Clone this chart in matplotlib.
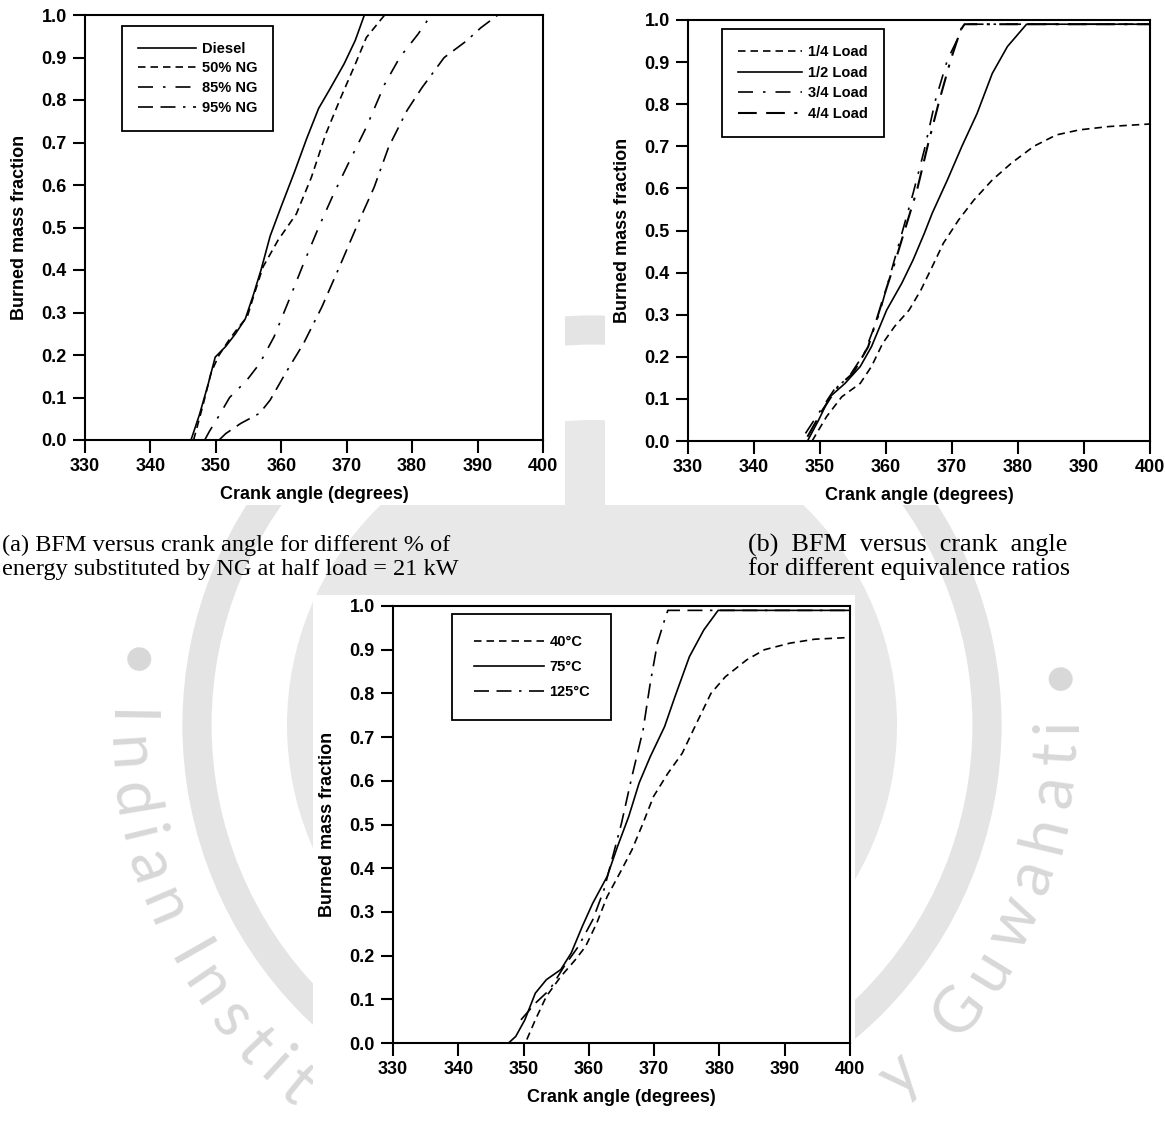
import numpy as np
import matplotlib
matplotlib.use("Agg")
import matplotlib.pyplot as plt
from matplotlib.patches import Circle, Rectangle
from matplotlib.transforms import IdentityTransform
from matplotlib.font_manager import FontProperties
from matplotlib.textpath import TextToPath

# ---- panel (a): % of energy substituted by NG, half load ----
a_labels = ["Diesel", "50% NG", "85% NG", "95% NG"]
a_diesel_x = [346.2, 347.5, 348.8, 349.9, 351.5, 353.0, 354.5, 355.7, 356.9, 358.3,
              360.0, 362.0, 363.9, 365.7, 367.4, 369.6, 371.3, 372.7]
a_diesel_y = [0.0, 0.06, 0.13, 0.195, 0.22, 0.25, 0.285, 0.34, 0.40, 0.48,
              0.55, 0.63, 0.71, 0.78, 0.825, 0.885, 0.94, 1.0]
a_ng50_x = [346.6, 348.0, 349.3, 350.5, 352.0, 353.3, 354.8, 355.8, 357.2, 359.5,
            362.3, 364.6, 366.8, 369.1, 371.3, 373.0, 375.8]
a_ng50_y = [0.0, 0.08, 0.16, 0.20, 0.235, 0.262, 0.29, 0.34, 0.407, 0.47,
            0.532, 0.618, 0.72, 0.806, 0.884, 0.947, 1.0]
a_ng85_x = [348.3, 349.0, 350.4, 352.1, 354.7, 356.7, 358.9, 361.2, 363.4, 365.7,
            368.0, 370.2, 373.0, 375.8, 378.1, 380.9, 382.9]
a_ng85_y = [0.0, 0.02, 0.055, 0.10, 0.14, 0.18, 0.243, 0.33, 0.415, 0.50,
            0.579, 0.649, 0.736, 0.837, 0.90, 0.955, 1.0]
a_ng95_x = [350.5, 351.5, 353.8, 356.7, 358.3, 360.6, 363.4, 366.2, 369.1, 371.9,
            374.2, 376.4, 379.2, 381.5, 384.9, 388.3, 390.5, 393.1]
a_ng95_y = [0.0, 0.015, 0.039, 0.063, 0.094, 0.156, 0.227, 0.313, 0.415, 0.516,
            0.595, 0.689, 0.775, 0.829, 0.90, 0.939, 0.97, 1.0]

# ---- panel (b): different loads ----
b_labels = ["1/4 Load", "1/2 Load", "3/4 Load", "4/4 Load"]
b_q1_x = [348.8, 351.0, 353.3, 356.1, 357.8, 359.5, 361.3, 363.5, 365.3, 367.0, 368.7,
          371.0, 373.3, 376.1, 379.0, 382.4, 385.8, 389.3, 393.8, 400.0]
b_q1_y = [0.0, 0.058, 0.105, 0.137, 0.177, 0.232, 0.272, 0.311, 0.359, 0.414, 0.47,
          0.525, 0.572, 0.62, 0.66, 0.70, 0.727, 0.739, 0.747, 0.753]
b_q2_x = [348.1, 349.8, 351.5, 353.8, 356.1, 357.8, 360.1, 362.4, 364.1, 365.8, 367.0,
          369.3, 371.5, 373.8, 376.1, 378.4, 381.3, 400.0]
b_q2_y = [0.0, 0.05, 0.105, 0.137, 0.177, 0.224, 0.311, 0.375, 0.43, 0.493, 0.541,
          0.62, 0.70, 0.778, 0.873, 0.937, 0.99, 0.99]
b_q3_x = [347.8, 349.8, 352.1, 354.4, 356.7, 359.0, 360.7, 362.4, 364.1, 365.8, 367.5,
          369.3, 371.0, 371.6, 400.0]
b_q3_y = [0.018, 0.066, 0.121, 0.153, 0.208, 0.303, 0.398, 0.493, 0.588, 0.691, 0.81,
          0.905, 0.96, 0.99, 0.99]
b_q4_x = [348.1, 350.4, 352.7, 355.0, 357.3, 359.5, 361.3, 363.0, 364.7, 366.4, 368.1,
          369.8, 371.3, 371.9, 400.0]
b_q4_y = [0.01, 0.074, 0.129, 0.161, 0.224, 0.335, 0.422, 0.509, 0.596, 0.707, 0.81,
          0.905, 0.976, 0.99, 0.99]

# ---- panel (c): intake temperature ----
c_labels = ["40\u00b0C", "75\u00b0C", "125\u00b0C"]
c_t40_x = [350.5, 351.8, 353.5, 355.7, 357.9, 359.5, 361.2, 362.8, 365.0, 366.6, 368.3,
           369.9, 372.1, 374.3, 376.5, 378.7, 380.9, 384.2, 386.9, 390.8, 394.6, 400.0]
c_t40_y = [0.008, 0.053, 0.107, 0.152, 0.19, 0.221, 0.274, 0.335, 0.396, 0.442, 0.503,
           0.564, 0.617, 0.663, 0.732, 0.80, 0.838, 0.877, 0.90, 0.915, 0.924, 0.928]
c_t75_x = [347.7, 348.8, 350.2, 351.8, 353.5, 355.7, 357.3, 359.0, 360.6, 362.8, 364.4,
           366.1, 367.7, 369.4, 371.6, 373.2, 375.4, 377.6, 379.8, 400.0]
c_t75_y = [0.0, 0.015, 0.053, 0.114, 0.145, 0.168, 0.206, 0.267, 0.32, 0.381, 0.45,
           0.518, 0.595, 0.655, 0.724, 0.793, 0.884, 0.945, 0.99, 0.99]
c_t125_x = [349.6, 351.8, 354.0, 356.2, 358.4, 360.6, 362.3, 363.4, 365.0, 366.6, 368.3,
            369.4, 370.5, 371.6, 372.1, 400.0]
c_t125_y = [0.053, 0.091, 0.122, 0.175, 0.221, 0.282, 0.35, 0.412, 0.503, 0.61, 0.716,
            0.823, 0.915, 0.968, 0.99, 0.99]

x_ticks = [330, 340, 350, 360, 370, 380, 390, 400]
y_ticks = [0.0, 0.1, 0.2, 0.3, 0.4, 0.5, 0.6, 0.7, 0.8, 0.9, 1.0]

caption_a = ["(a) BFM versus crank angle for different % of",
             "energy substituted by NG at half load = 21 kW"]
caption_b = ["(b)  BFM  versus  crank  angle",
             "for different equivalence ratios"]

wm_left = "\u2022 Indian Institute of Technology"
wm_right = "Guwahati \u2022"

# line styles
SOLID = "-"
SHORT = (0, (4.5, 3))
DASHDOT = (0, (9, 6, 1.5, 6))
DASHDASHDOT = (0, (9, 4.5, 9, 4.5, 1.5, 4.5))

plt.rcParams["font.family"] = ["Liberation Sans", "DejaVu Sans"]
plt.rcParams["font.weight"] = "bold"

W, H = 1165, 1135
fig = plt.figure(figsize=(W / 100, H / 100), dpi=100)

# white boxes of the three pasted plots (pixels from top-left)
boxes = [(0, 0, 565, 505), (605, 0, 1165, 505), (313, 595, 855, 1135)]

# ---- faint watermark in the background ----
wm = "#e4e4e4"
cx, cy = 592, H - 725
fig.patches.append(Circle((cx, cy), 305, transform=IdentityTransform(),
                          facecolor="#e8e8e8", edgecolor="none", zorder=-5))
fig.patches.append(Circle((cx, cy), 395, transform=IdentityTransform(),
                          facecolor="none", edgecolor=wm, lw=21, zorder=-5))

fp = FontProperties(family=["Lato", "Open Sans", "DejaVu Sans"], weight="normal", size=46)
t2p = TextToPath()
em = 46 * 100 / 72


def char_adv(ch):
    if ch == " ":
        return 0.26 * em
    w = t2p.get_text_width_height_descent(ch, fp, ismath=False)[0] * 100 / 72
    return w + 0.15 * em


r_base, r_mid = 484, 462


def in_box(px, py):
    ypx = H - py
    for x0, y0, x1, y1 in boxes:
        if x0 <= px <= x1 and y0 <= ypx <= y1:
            return True
    return False


def put_arc(text, ang_deg, backwards=False):
    advs = [char_adv(c) for c in text]
    if backwards:
        text, advs = text[::-1], advs[::-1]
    th = np.radians(ang_deg)
    sign = -1 if backwards else 1
    for i, (ch, w) in enumerate(zip(text, advs)):
        if i > 0:
            th += sign * (advs[i - 1] / 2 + w / 2) / r_mid
        if ch == " ":
            continue
        px = cx + r_base * np.cos(th)
        py = cy + r_base * np.sin(th)
        if in_box(px, py) or not (25 < px < W - 25 and 25 < py < H - 25):
            continue
        fig.text(px / W, py / H, ch, fontproperties=fp, color="#d8d8d8", ha="center",
                 va="baseline", rotation=np.degrees(th) + 90, rotation_mode="anchor",
                 zorder=-4)


put_arc(wm_left, 172.5)
put_arc(wm_right, 366.5, backwards=True)

for x0, y0, x1, y1 in boxes:
    fig.patches.append(Rectangle((x0, H - y1), x1 - x0, y1 - y0, transform=IdentityTransform(),
                                 facecolor="white", edgecolor="none", zorder=-3))


def make_axes(x0, x1, ytop, ybot):
    ax = fig.add_axes([x0 / W, 1 - ybot / H, (x1 - x0) / W, (ybot - ytop) / H])
    ax.set_xlim(330, 400)
    ax.set_ylim(0, 1.0)
    ax.set_xticks(x_ticks)
    ax.set_yticks(y_ticks)
    ax.set_yticklabels([f"{v:.1f}" for v in y_ticks])
    ax.tick_params(direction="out", length=9, width=1.5, labelsize=13, pad=4)
    for sp in ax.spines.values():
        sp.set_linewidth(1.5)
    ax.set_xlabel("Crank angle (degrees)", fontsize=13, fontweight="bold", labelpad=8)
    ax.set_ylabel("Burned mass fraction", fontsize=13, fontweight="bold", labelpad=10)
    return ax


def add_legend(ax, anchor, hlen, spacing, pad=1.1):
    leg = ax.legend(loc="upper left", bbox_to_anchor=anchor, frameon=True, fancybox=False,
                    edgecolor="black", framealpha=1, handlelength=hlen, handletextpad=0.4,
                    borderpad=pad, labelspacing=spacing, borderaxespad=0,
                    prop={"weight": "bold", "size": 10.5})
    leg.get_frame().set_linewidth(1.3)
    return leg


LW = 1.2

# (a)
ax = make_axes(85, 543, 15, 440)
ax.plot(a_diesel_x, a_diesel_y, color="black", lw=LW, linestyle=SOLID, label=a_labels[0])
ax.plot(a_ng50_x, a_ng50_y, color="black", lw=LW, linestyle=SHORT, label=a_labels[1])
ax.plot(a_ng85_x, a_ng85_y, color="black", lw=LW, linestyle=DASHDOT, label=a_labels[2])
ax.plot(a_ng95_x, a_ng95_y, color="black", lw=LW, linestyle=DASHDASHDOT, label=a_labels[3])
add_legend(ax, (0.08, 0.975), 4.0, 0.4)

# (b)
ax = make_axes(688, 1150, 20, 441)
ax.plot(b_q1_x, b_q1_y, color="black", lw=LW, linestyle=SHORT, label=b_labels[0])
ax.plot(b_q2_x, b_q2_y, color="black", lw=LW, linestyle=SOLID, label=b_labels[1])
ax.plot(b_q3_x, b_q3_y, color="black", lw=LW, linestyle=DASHDOT, label=b_labels[2])
ax.plot(b_q4_x, b_q4_y, color="black", lw=LW + 0.3, linestyle=DASHDASHDOT, label=b_labels[3])
add_legend(ax, (0.074, 0.978), 4.4, 0.45)

# (c)
ax = make_axes(393, 850, 606, 1043)
ax.plot(c_t40_x, c_t40_y, color="black", lw=LW, linestyle=SHORT, label=c_labels[0])
ax.plot(c_t75_x, c_t75_y, color="black", lw=LW, linestyle=SOLID, label=c_labels[1])
ax.plot(c_t125_x, c_t125_y, color="black", lw=LW, linestyle=DASHDASHDOT, label=c_labels[2])
add_legend(ax, (0.13, 0.982), 4.8, 0.75, pad=1.45)

# captions
cap = dict(family=["Liberation Serif", "DejaVu Serif"], fontweight="normal",
           va="center", ha="left", zorder=5)
fig.text(2 / W, 1 - 545 / H, caption_a[0], fontsize=17.5, **cap)
fig.text(2 / W, 1 - 569 / H, caption_a[1], fontsize=17.5, **cap)
fig.text(748 / W, 1 - 545 / H, caption_b[0], fontsize=18.8, **cap)
fig.text(748 / W, 1 - 569 / H, caption_b[1], fontsize=18.8, **cap)

fig.savefig("out.png", dpi=100)
